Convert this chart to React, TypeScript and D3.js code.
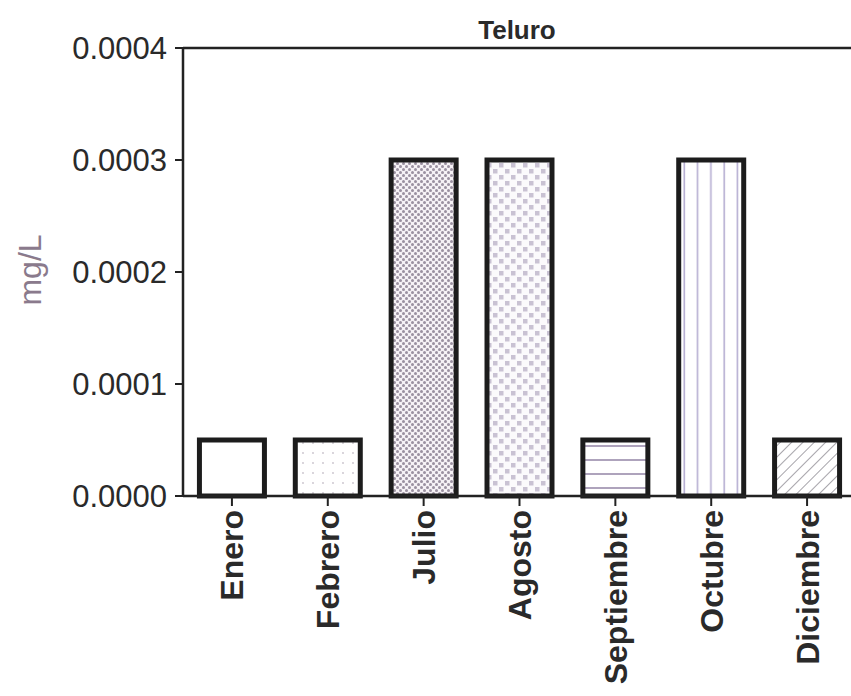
import React from "react";
import * as d3 from "d3";

const months = ["Enero", "Febrero", "Julio", "Agosto", "Septiembre", "Octubre", "Diciembre"];
const values = [0.00005, 0.00005, 0.0003, 0.0003, 0.00005, 0.0003, 0.00005];
const patterns = ["none", "sparseDots", "denseDots", "checker", "hLines", "vLines", "diag"];
const yTicks = [0, 0.0001, 0.0002, 0.0003, 0.0004];
const title = "Teluro";
const yLabel = "mg/L";

const W = 851;
const H = 696;
const left = 183;
const right = 855;
const top = 48;
const bottom = 496;
const FONT = "'Liberation Sans', Arial, Helvetica, sans-serif";

export default function App() {
  const x = d3.scaleBand<string>().domain(months).range([left + 1, right]).paddingInner(0.322).paddingOuter(0.161);
  const y = d3.scaleLinear().domain([0, 0.0004]).range([bottom, top]);
  const fmt = d3.format(".4f");

  return (
    <svg width={W} height={H} style={{ position: "absolute", left: 0, top: 0, background: "#fff" }}>
      <defs>
        <pattern id="sparseDots" width="10" height="10" patternUnits="userSpaceOnUse">
          <rect width="10" height="10" fill="#fff" />
          <circle cx="3" cy="3" r="0.9" fill="#c9c2cc" />
        </pattern>
        <pattern id="denseDots" width="6" height="6" patternUnits="userSpaceOnUse">
          <rect width="6" height="6" fill="#f6f2f6" />
          <circle cx="1.5" cy="1.5" r="1.5" fill="#9a90a0" />
          <circle cx="4.5" cy="4.5" r="1.5" fill="#9a90a0" />
        </pattern>
        <pattern id="checker" width="12" height="12" patternUnits="userSpaceOnUse">
          <rect width="12" height="12" fill="#fbfafc" />
          <rect x="1" y="1" width="4.5" height="4.5" fill="#c9c2d3" />
          <rect x="7" y="7" width="4.5" height="4.5" fill="#c9c2d3" />
        </pattern>
        <pattern id="hLines" width="14" height="14" patternUnits="userSpaceOnUse" y="5">
          <rect width="14" height="14" fill="#fff" />
          <line x1="0" x2="14" y1="7" y2="7" stroke="#9a8cab" strokeWidth="1.6" />
        </pattern>
        <pattern id="vLines" width="13.3" height="13" patternUnits="userSpaceOnUse" x="0">
          <rect width="13.3" height="13" fill="#fff" />
          <line x1="6" x2="6" y1="0" y2="13" stroke="#b6aed2" strokeWidth="1.6" />
        </pattern>
        <pattern id="diag" width="8" height="8" patternUnits="userSpaceOnUse" patternTransform="rotate(45)">
          <rect width="8" height="8" fill="#fff" />
          <line x1="0" x2="0" y1="0" y2="8" stroke="#9c9aa0" strokeWidth="1.8" />
        </pattern>
      </defs>

      <text x={(left + W) / 2} y={39} textAnchor="middle" fontFamily={FONT} fontSize={26} fontWeight="bold" fill="#2a2a2a">
        {title}
      </text>

      <text
        transform={`translate(30, 270) rotate(-90)`}
        textAnchor="middle"
        dy="0.35em"
        fontFamily={FONT}
        fontSize={32}
        fill="#8a7a8c"
      >
        {yLabel}
      </text>

      {months.map((m, i) => {
        const v = values[i];
        const p = patterns[i];
        return (
          <rect
            key={m}
            x={x(m)!}
            y={y(v)}
            width={x.bandwidth()}
            height={y(0) - y(v)}
            fill={p === "none" ? "#fff" : `url(#${p})`}
            stroke="#1c1c1c"
            strokeWidth={5}
          />
        );
      })}

      <line x1={left} x2={W} y1={top} y2={top} stroke="#222" strokeWidth={2.5} />
      <line x1={left} x2={left} y1={top} y2={bottom} stroke="#222" strokeWidth={2.5} />
      <line x1={left} x2={W} y1={bottom} y2={bottom} stroke="#222" strokeWidth={2.5} />

      {yTicks.map((t) => (
        <g key={t}>
          <line x1={left - 8} x2={left} y1={y(t)} y2={y(t)} stroke="#222" strokeWidth={2} />
          <text x={left - 16} y={y(t)} dy="0.35em" textAnchor="end" fontFamily={FONT} fontSize={31} fill="#2a2a2a">
            {fmt(t)}
          </text>
        </g>
      ))}

      {months.map((m) => {
        const cx = x(m)! + x.bandwidth() / 2;
        return (
          <g key={m}>
            <line x1={cx} x2={cx} y1={bottom} y2={bottom + 10} stroke="#222" strokeWidth={2} />
            <text
              transform={`translate(${cx}, ${bottom + 14}) rotate(-90)`}
              textAnchor="end"
              dy="0.36em"
              fontFamily={FONT}
              fontSize={32}
              fontWeight="bold"
              fill="#2a2a2a"
            >
              {m}
            </text>
          </g>
        );
      })}
    </svg>
  );
}
